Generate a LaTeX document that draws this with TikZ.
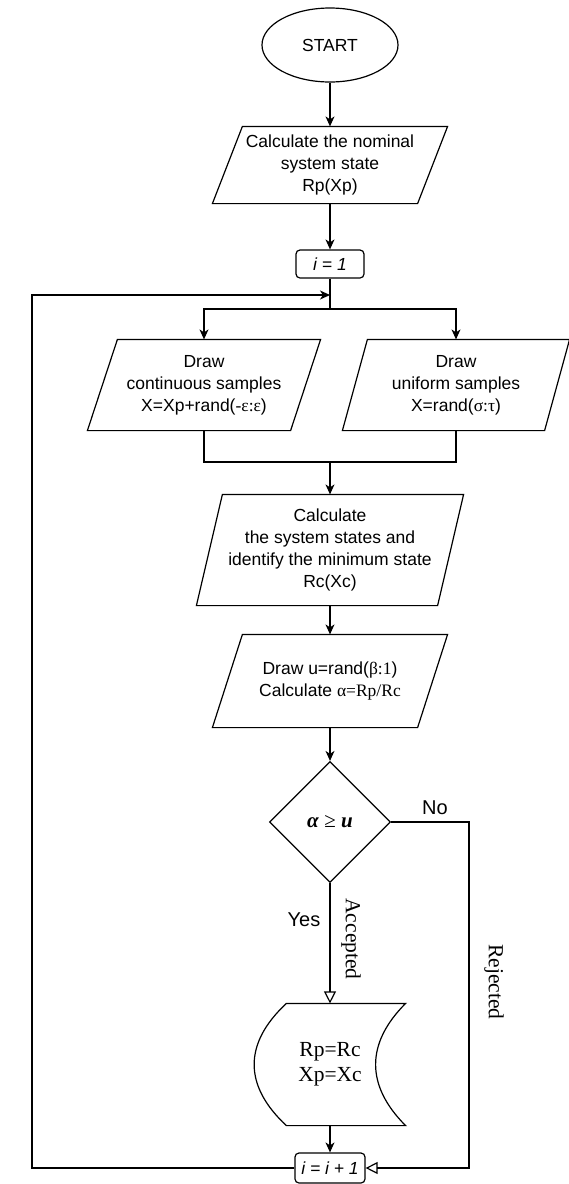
\documentclass[tikz,border=0pt]{standalone}
\usepackage{fontspec}
\setmainfont{Liberation Serif}
\setsansfont{Liberation Sans}
\usetikzlibrary{shapes.geometric,arrows.meta,calc}
\newcommand{\sr}[1]{{\rmfamily #1}}
\newcommand{\parabox}[2]{\draw ($(#1.north west)+(#2,0)$) -- (#1.north east) -- ($(#1.south east)-(#2,0)$) -- (#1.south west) -- cycle;}
\tikzset{
  arr/.style={-{Stealth[length=10pt,width=9pt,inset=3pt]}},
  oarr/.style={-{Triangle[open,length=12pt,width=12pt]}},
  pbox/.style={rectangle, inner sep=0pt, align=center},
  ibox/.style={draw, rounded corners=4pt, inner sep=0pt, font=\sffamily\itshape\fontsize{17.5}{22}\selectfont},
  lbl/.style={font=\sffamily\fontsize{20}{24}\selectfont},
  slbl/.style={font=\rmfamily\fontsize{21.5}{24}\selectfont},
}
\begin{document}
\begin{tikzpicture}[x=1pt,y=-1pt,line width=1.2pt,font=\sffamily\fontsize{17.5}{22}\selectfont]
\fill[white] (0,0) rectangle (568,1184);
\useasboundingbox (0,0) rectangle (568,1184);

\node[ellipse, draw, minimum width=136pt, minimum height=74pt, inner sep=0pt] (start) at (330,45) {START};

\node[pbox, minimum width=234pt, minimum height=76pt] (p1) at (330,165) {Calculate the nominal\\system state\\Rp(Xp)};
\parabox{p1}{30}

\node[ibox, minimum width=68pt, minimum height=28pt] (i1) at (330,264) {i = 1};

\coordinate (fb) at (330,295);
\coordinate (j1) at (330,309);
\coordinate (lb) at (32,295);

\node[pbox, minimum width=232pt, minimum height=90pt] (pL) at (204,385) {Draw\\continuous samples\\X=Xp+rand(\sr{-ε:ε})};
\parabox{pL}{30}

\node[pbox, minimum width=226pt, minimum height=90pt] (pR) at (456,385) {Draw\\uniform samples\\X=rand(\sr{σ:τ})};
\parabox{pR}{25}

\coordinate (j2) at (330,462);

\node[pbox, minimum width=266pt, minimum height=110pt] (p3) at (330,550) {Calculate\\the system states and\\identify the minimum state\\Rc(Xc)};
\parabox{p3}{26}

\node[pbox, minimum width=234pt, minimum height=92pt] (p4) at (330,681) {Draw u=rand(\sr{β:1})\\Calculate \sr{α=Rp/Rc}};
\parabox{p4}{30}

\node[diamond, draw, aspect=1, minimum width=121pt, minimum height=121pt, inner sep=0pt, font=\rmfamily\fontsize{21}{24}\selectfont] (dia) at (330,822) {\textbf{\textit{α}} ≥ \textbf{\textit{u}}};

\node[pbox, minimum width=150pt, minimum height=121pt, font=\rmfamily\fontsize{21.5}{25}\selectfont] (sd) at (330,1064.5) {Rp=Rc\\Xp=Xc};
\draw ($(sd.north west)+(32,0)$) -- (sd.north east)
  .. controls ($(sd.north east)+(-40,40)$) and ($(sd.south east)+(-40,-40)$) .. (sd.south east)
  -- ($(sd.south west)+(32,0)$)
  .. controls ($(sd.south west)+(-11,-40)$) and ($(sd.north west)+(-11,40)$) .. ($(sd.north west)+(32,0)$) -- cycle;

\node[ibox, minimum width=70pt, minimum height=30pt] (i2) at (330,1168) {i = i + 1};
\coordinate (rb) at (469,1168);

\node[lbl] (no) at (435,808) {No};
\node[lbl] (yes) at (304,920) {Yes};
\node[slbl, rotate=-90] (acc) at (351,939) {Accepted};
\node[slbl, rotate=-90] (rej) at (494,982) {Rejected};

\draw[arr] (start.south) -- (p1.north);
\draw[arr] (p1.south) -- (i1.north);
\draw (i1.south) -- (j1);
\draw[arr] (j1) -| (pL.north);
\draw[arr] (j1) -| (pR.north);
\draw (pL.south) |- (j2);
\draw (pR.south) |- (j2);
\draw[arr] (j2) -- (p3.north);
\draw[arr] (p3.south) -- (p4.north);
\draw[arr] (p4.south) -- (dia.north);
\draw[oarr] (dia.south) -- (sd.north);
\draw[arr] (sd.south) -- (i2.north);
\draw[oarr] (dia.east) -| (rb) -- (i2.east);
\draw[arr] (i2.west) -| (lb) -- (fb);
\end{tikzpicture}
\end{document}
